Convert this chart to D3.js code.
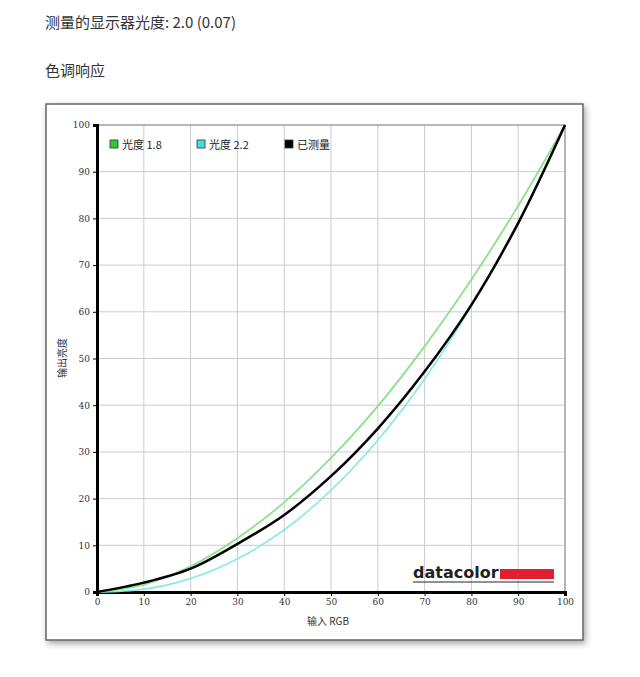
<!DOCTYPE html><html><head><meta charset="utf-8"><script src="https://cdn.jsdelivr.net/npm/d3@7"></script>
<style>body{margin:0;background:#fff;font-family:"Noto Sans CJK SC","Noto Sans",sans-serif}</style></head><body>
<svg id="c" width="640" height="677"></svg>
<script>
const xs=[0,10,20,30,40,50,60,70,80,90,100];
const gamma18=[0,1.6,5.5,11.5,19.2,28.7,39.8,52.6,66.9,82.7,100];
const gamma22=[0,0.6,2.9,7.1,13.3,21.8,32.5,45.6,61.2,79.3,100];
const measured=[0,2,5,10.3,16.5,24.8,35,47.2,61.5,79,100];
const ticks=[0,10,20,30,40,50,60,70,80,90,100];
const svg=d3.select("#c");
svg.append("text").attr("x",45).attr("y",28).attr("font-size",15).attr("fill","#333").text("测量的显示器光度: 2.0 (0.07)");
svg.append("text").attr("x",45).attr("y",76).attr("font-size",15).attr("fill","#333").text("色调响应");
const defs=svg.append("defs");
const f=defs.append("filter").attr("id","sh").attr("x","-5%").attr("y","-5%").attr("width","110%").attr("height","110%");
f.append("feDropShadow").attr("dx",2).attr("dy",3).attr("stdDeviation",3).attr("flood-color","#000").attr("flood-opacity",0.35);
svg.append("rect").attr("x",46).attr("y",104).attr("width",537).attr("height",536).attr("fill","#fff").attr("stroke","#666").attr("stroke-width",1.5).attr("filter","url(#sh)");
const x=d3.scaleLinear().domain([0,100]).range([97,565]);
const y=d3.scaleLinear().domain([0,100]).range([592,125]);
const g=svg.append("g");
ticks.forEach(t=>{
 g.append("line").attr("x1",x(t)).attr("x2",x(t)).attr("y1",y(0)).attr("y2",y(100)).attr("stroke","#ccc");
 g.append("line").attr("x1",x(0)).attr("x2",x(100)).attr("y1",y(t)).attr("y2",y(t)).attr("stroke","#ccc");
});
g.append("rect").attr("x",x(0)).attr("y",y(100)).attr("width",x(100)-x(0)).attr("height",y(0)-y(100)).attr("fill","none").attr("stroke","#888");
const ax=svg.append("g").attr("transform",`translate(0,${y(0)})`).call(d3.axisBottom(x).tickValues(ticks).tickSize(4).tickFormat(d3.format("d")));
const ay=svg.append("g").attr("transform",`translate(${x(0)},0)`).call(d3.axisLeft(y).tickValues(ticks).tickSize(4).tickFormat(d3.format("d")));
[ax,ay].forEach(a=>{a.selectAll("text").attr("font-family","DejaVu Serif,serif").attr("font-size",9).attr("fill","#333");a.select(".domain").attr("stroke","#000").attr("stroke-width",3);});
const line=d3.line().x((d,i)=>x(xs[i])).y(d=>y(d)).curve(d3.curveCatmullRom);
svg.append("path").attr("d",line(gamma22)).attr("fill","none").attr("stroke","#7ee8e8").attr("stroke-width",1.5);
svg.append("path").attr("d",line(gamma18)).attr("fill","none").attr("stroke","#8ee08a").attr("stroke-width",1.8);
svg.append("path").attr("d",line(measured)).attr("fill","none").attr("stroke","#000").attr("stroke-width",2.5);
const leg=[["光度 1.8","#2ecc2e"],["光度 2.2","#40e0e0"],["已测量","#000"]];
const lx=[110,197,285];
leg.forEach((l,i)=>{
 svg.append("rect").attr("x",lx[i]).attr("y",140).attr("width",8).attr("height",8).attr("fill",l[1]).attr("stroke","#333").attr("stroke-width",0.8);
 svg.append("text").attr("x",lx[i]+12).attr("y",148.5).attr("font-size",11).attr("fill","#222").text(l[0]);
});
svg.append("text").attr("x",307).attr("y",625).attr("font-size",10).attr("fill","#333").text("输入 RGB");
svg.append("text").attr("transform","translate(66,358) rotate(-90)").attr("text-anchor","middle").attr("font-size",10).attr("fill","#333").text("输出亮度");
svg.append("text").attr("x",413).attr("y",578).attr("font-family","DejaVu Sans").attr("font-weight","bold").attr("font-size",16).attr("fill","#222").text("datacolor");
svg.append("rect").attr("x",500).attr("y",569).attr("width",54).attr("height",10).attr("fill","#e02030");
svg.append("line").attr("x1",413).attr("x2",554).attr("y1",582).attr("y2",582).attr("stroke","#222").attr("stroke-width",1);
</script></body></html>
